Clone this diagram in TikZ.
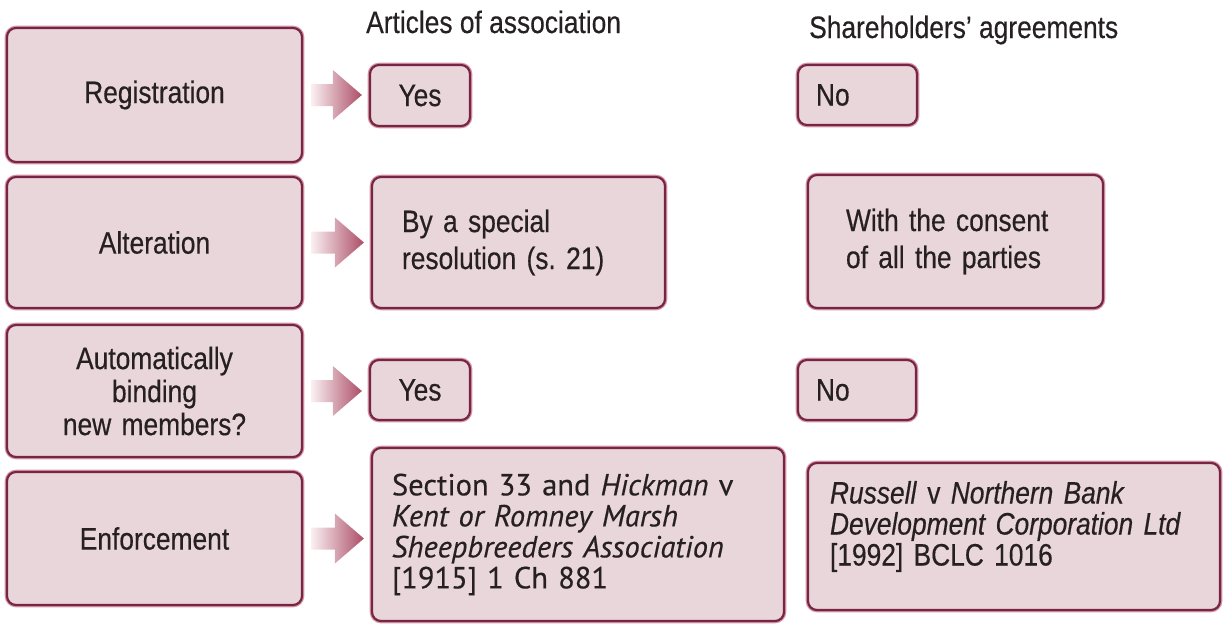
\documentclass[tikz,border=0pt]{standalone}
\usepackage{fontspec}
\setmainfont[FakeStretch=0.85, FakeBold=0.4]{Liberation Sans}
\newfontfamily\casefont[FakeBold=0.3]{PT Sans}
\usetikzlibrary{calc}
\frenchspacing

\definecolor{boxfill}{RGB}{233,214,218}
\definecolor{boxline}{RGB}{118,38,68}
\definecolor{boxglow}{RGB}{214,150,168}
\definecolor{ink}{RGB}{38,32,34}
\definecolor{arrowdark}{RGB}{172,78,104}
\definecolor{arrowlight}{RGB}{250,240,242}

% broad shaded arrow from the east side of #1 towards the west side of #2
\newcommand\fatarrow[2]{%
  \coordinate (#1-s) at ($(#1.east)+(8,0)$);
  \coordinate (#1-t) at ($(#2.west)+(-7,0)$);
  \coordinate (#1-tip) at (#1-t |- #1.east);
  \coordinate (#1-b) at ($(#1-tip)+(-29,0)$);
  \path[left color=arrowlight, right color=arrowdark]
    ($(#1-s)+(0,-11)$) -- ($(#1-b)+(0,-11)$) -- ($(#1-b)+(0,-25)$) --
    (#1-tip) -- ($(#1-b)+(0,25)$) -- ($(#1-b)+(0,11)$) --
    ($(#1-s)+(0,11)$) -- cycle;
}

\begin{document}
\begin{tikzpicture}[x=1pt,y=-1pt,
  every node/.style={text=ink, font=\fontsize{31}{33}\selectfont},
  panel/.style={draw=boxline, fill=boxfill, line width=2.2pt,
    rounded corners=9pt, preaction={draw=boxglow, line width=4.6pt},
    inner ysep=0pt},
  topic/.style={panel, text width=275pt, inner xsep=10pt, align=center,
    minimum height=#1},
  answer/.style={panel, align=left},
  heading/.style={anchor=base west, inner sep=0pt}]

\useasboundingbox (0,0) rectangle (1225,624);

% column headings
\node[heading] (hA) at (366,33) {Articles of association};
\node[heading] (hS) at (809,38) {Shareholders’ agreements};

% row topics
\node[topic=134pt] (reg) at (154.5,95) {Registration};
\node[topic=131pt] (alt) at (154.5,242.5) {Alteration};
\node[topic=132pt] (aut) at (154.5,391)
  {Automatically\\binding\\new members?};
\node[topic=133pt] (enf) at (154.5,538.5) {Enforcement};

% articles of association
\node[answer, text width=74pt, inner xsep=13pt, align=center, minimum height=61pt]
  (yes1) at (420,95.5) {Yes};
\node[answer, text width=233pt, inner xsep=30pt, minimum height=131pt,
  font=\fontsize{31}{37}\selectfont]
  (spec) at (518.5,242.5) {By a special\\resolution (s. 21)};
\node[answer, text width=74pt, inner xsep=13pt, align=center, minimum height=60pt]
  (yes3) at (420,390) {Yes};
\node[answer, text width=372pt, inner xsep=20pt, minimum height=173pt,
  font=\casefont\fontsize{30.5}{31}\selectfont]
  (sec) at (578,534.5)
  {Section 33 and \textit{Hickman} v\\\textit{Kent or Romney Marsh}\\
   \textit{Sheepbreeders Association}\\{[1915]} 1 Ch 881};

% shareholders' agreements
\node[answer, text width=83pt, inner xsep=18pt, minimum height=60pt]
  (no1) at (857.5,95) {No};
\node[answer, text width=219pt, inner xsep=38pt, minimum height=133pt,
  font=\fontsize{31}{37}\selectfont]
  (cons) at (955.5,241.5) {With the consent\\of all the parties};
\node[answer, text width=82pt, inner xsep=18pt, minimum height=60pt]
  (no3) at (857,390) {No};
\node[answer, text width=368pt, inner xsep=22pt, minimum height=147pt,
  font=\fontsize{31}{31}\selectfont]
  (rus) at (1014,536.5)
  {\textit{Russell} v \textit{Northern Bank}\\
   \textit{Development Corporation Ltd}\\{[1992]} BCLC 1016\par\vspace{20pt}};

% arrows from each topic to its answer
\fatarrow{reg}{yes1}
\fatarrow{alt}{spec}
\fatarrow{aut}{yes3}
\fatarrow{enf}{sec}

\end{tikzpicture}
\end{document}
